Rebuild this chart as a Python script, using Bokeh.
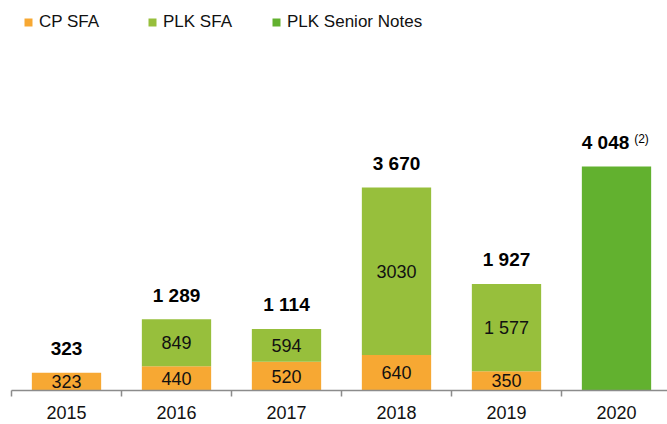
from bokeh.plotting import figure
from bokeh.models import ColumnDataSource, Range1d, FixedTicker, Legend, LegendItem
from bokeh.core.properties import value
from bokeh.embed import file_html
from bokeh.resources import INLINE

# ---- data ----
years = ["2015", "2016", "2017", "2018", "2019", "2020"]
cp_sfa = [323, 440, 520, 640, 350, 0]
plk_sfa = [0, 849, 594, 3030, 1577, 0]
plk_notes = [0, 0, 0, 0, 0, 4048]
cp_labels = ["323", "440", "520", "640", "350", ""]
plk_labels = ["", "849", "594", "3030", "1 577", ""]
total_labels = ["323", "1 289", "1 114", "3 670", "1 927", "4 048"]
footnotes = ["", "", "", "", "", "(2)"]
series_names = ["CP SFA", "PLK SFA", "PLK Senior Notes"]
colors = ["#F7A833", "#97BF3C", "#62B12F"]

FONT = "Liberation Sans"

x = list(range(len(years)))
b1 = [0] * len(years)
t1 = [b1[i] + cp_sfa[i] for i in x]
t2 = [t1[i] + plk_sfa[i] for i in x]
t3 = [t2[i] + plk_notes[i] for i in x]

src = ColumnDataSource(dict(
    x=x, b1=b1, t1=t1, t2=t2, t3=t3,
    m1=[(b1[i] + t1[i]) / 2 for i in x],
    m2=[(t1[i] + t2[i]) / 2 for i in x],
    cpl=cp_labels, pll=plk_labels, tot=total_labels, fn=footnotes,
    tx_off=[-11 if f else 0 for f in footnotes],
    fn_off=[25 if f else 0 for f in footnotes],
))

W, H = 667, 424
left, bottom = 11, 34
frame_w = W - left
px_per_cat = 110.0
px_per_unit = 203.0 / 3670.0
frame_h = H - bottom

p = figure(width=W, height=H, output_backend="svg", toolbar_location=None,
           x_range=Range1d(-0.5, -0.5 + frame_w / px_per_cat),
           y_range=Range1d(0, frame_h / px_per_unit),
           min_border_left=left, min_border_right=0, min_border_top=0,
           min_border_bottom=bottom)
p.outline_line_color = None
p.background_fill_color = "white"
p.border_fill_color = "white"
p.grid.visible = False
p.yaxis.visible = False

bw = 0.63
r1 = p.vbar(x="x", bottom="b1", top="t1", width=bw, source=src,
            fill_color=colors[0], line_color=None)
r2 = p.vbar(x="x", bottom="t1", top="t2", width=bw, source=src,
            fill_color=colors[1], line_color=None)
r3 = p.vbar(x="x", bottom="t2", top="t3", width=bw, source=src,
            fill_color=colors[2], line_color=None)

for ycol, lcol in (("m1", "cpl"), ("m2", "pll")):
    p.text(x="x", y=ycol, text=lcol, source=src, text_align="center",
           text_baseline="middle", text_font=value(FONT),
           text_font_size="18px", text_color="#111111")

p.text(x="x", y="t3", text="tot", source=src, x_offset="tx_off", y_offset=-24,
       text_align="center", text_baseline="middle", text_font=value(FONT),
       text_font_size="19px", text_font_style="bold", text_color="#000000")
p.text(x="x", y="t3", text="fn", source=src, x_offset="fn_off", y_offset=-28,
       text_align="center", text_baseline="middle", text_font=value(FONT),
       text_font_size="12px", text_color="#000000")

ax = p.xaxis[0]
ax.ticker = FixedTicker(ticks=x, minor_ticks=[i - 0.5 for i in range(len(years) + 1)])
ax.major_label_overrides = {i: years[i] for i in x}
ax.major_tick_out = 0
ax.major_tick_in = 0
ax.minor_tick_out = 6
ax.minor_tick_in = 0
ax.axis_line_color = "#8C8C8C"
ax.axis_line_width = 1.5
ax.minor_tick_line_color = "#8C8C8C"
ax.minor_tick_line_width = 1.5
ax.major_label_text_font = FONT
ax.major_label_text_font_size = "18px"
ax.major_label_text_color = "#111111"
ax.major_label_standoff = 9

legend = Legend(items=[LegendItem(label=series_names[0], renderers=[r1]),
                       LegendItem(label=series_names[1], renderers=[r2]),
                       LegendItem(label=series_names[2], renderers=[r3])],
                orientation="horizontal", location="top_left",
                glyph_width=10, glyph_height=10, label_standoff=6, spacing=28,
                label_width=80,
                label_text_font=FONT, label_text_font_size="17px",
                label_text_color="#111111", border_line_color=None,
                background_fill_alpha=0, padding=0, margin=12)
p.add_layout(legend)

open("out.html", "w").write(file_html(p, INLINE))
